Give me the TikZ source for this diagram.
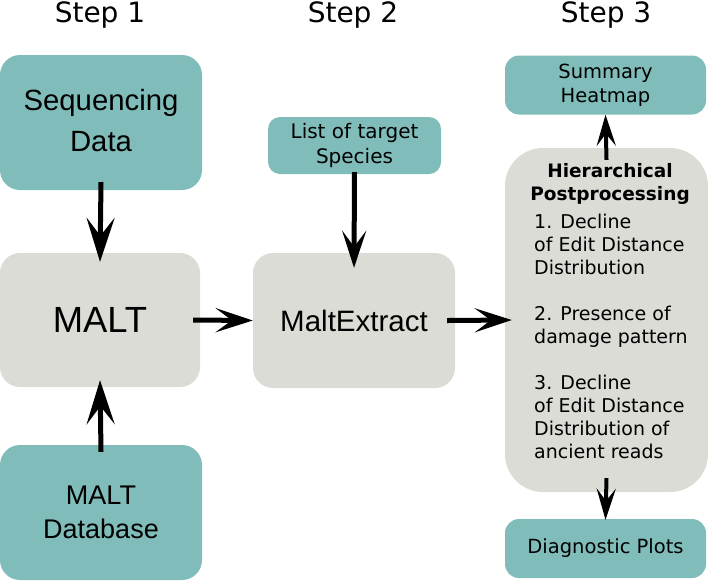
\documentclass[tikz,border=0pt]{standalone}
\usepackage{fontspec}
\setmainfont{DejaVu Sans}
\newfontfamily\arialfont{Liberation Sans}
\usetikzlibrary{arrows.meta}
\definecolor{tealbox}{RGB}{128,189,186}
\definecolor{graybox}{RGB}{220,220,214}
\begin{document}
\begin{tikzpicture}[x=1pt,y=-1pt]

% definitions
\tikzstyle{steplabel} = [anchor=base, inner sep=0pt, font=\fontsize{28}{30}\selectfont]

\tikzstyle{input} = [rectangle, rounded corners=20pt, fill=tealbox, inner sep=0pt, align=center, minimum width=202pt, minimum height=135pt]

\tikzstyle{tool} = [rectangle, rounded corners=20pt, fill=graybox, inner sep=0pt, align=center, minimum width=202pt, minimum height=135pt]

\tikzstyle{output} = [rectangle, rounded corners=14pt, fill=tealbox, inner sep=0pt, align=center, minimum width=201pt, minimum height=59pt, font=\fontsize{19.5}{24}\selectfont]

\tikzstyle{bigarrow} = [line width=5pt, -{Stealth[length=44pt,width=28pt,inset=18pt]}]
\tikzstyle{arrow} = [line width=5pt, -{Stealth[length=37pt,width=24pt,inset=16pt]}]
\tikzstyle{smallarrow} = [line width=4pt, -{Stealth[length=31pt,width=19pt,inset=12pt]}]

\useasboundingbox (0,0) rectangle (708,582);

% step titles
\node (s1) [steplabel] at (100,22) {Step 1};
\node (s2) [steplabel] at (353,22) {Step 2};
\node (s3) [steplabel] at (606,22) {Step 3};

% step 1
\node (seq) [input, font=\arialfont\fontsize{29.3}{41}\selectfont] at (101,122.5) {\raisebox{5pt}{\shortstack{Sequencing\\[12pt]Data}}};
\node (malt) [tool, minimum width=200pt, minimum height=134pt, font=\arialfont\fontsize{36.4}{40}\selectfont] at (100,320) {MALT};
\node (db) [input, font=\arialfont\fontsize{27}{34}\selectfont] at (101,512.5) {MALT\\Database};

% step 2
\node (species) [output, rounded corners=12pt, minimum width=173pt, minimum height=57pt, font=\fontsize{20}{25}\selectfont] at (354.5,145.5) {List of target\\Species};
\node (extract) [tool, font=\arialfont\fontsize{29.5}{32}\selectfont] at (354,320.5) {MaltExtract};

% step 3
\node (hier) [tool, rounded corners=38pt, minimum width=203pt, minimum height=344pt] at (606.5,320) {};
\node (hierhead) [align=center, inner sep=0pt, font=\bfseries\fontsize{18.5}{23}\selectfont] at (610,184) {Hierarchical\\Postprocessing};
\node (hiersteps) [anchor=north west, align=left, inner sep=0pt, font=\fontsize{19}{23}\selectfont] at (534,214) {1. Decline\\of Edit Distance\\Distribution\\[23pt]2. Presence of\\damage pattern\\[23pt]3. Decline\\of Edit Distance\\Distribution of\\ancient reads};
\node (summary) [output] at (605.5,85) {Summary\\Heatmap};
\node (diag) [output] at (605.5,548.5) {Diagnostic Plots};

\draw [bigarrow] ([yshift=8pt]seq.south) -- ([yshift=-9pt]malt.north);
\draw [bigarrow] ([yshift=-7pt]db.north) -- ([yshift=7pt]malt.south);
\draw [arrow] ([xshift=-7pt]malt.east) -- (extract.west);
\draw [arrow] ([yshift=2pt]species.south) -- ([yshift=-15pt]extract.north);
\draw [arrow] ([xshift=-8pt]extract.east) -- ([xshift=7pt]hier.west);
\draw [smallarrow] ([yshift=-12pt]hier.north) -- (summary.south);
\draw [smallarrow] ([yshift=14pt]hier.south) -- ([yshift=-1pt]diag.north);

\end{tikzpicture}
\end{document}
